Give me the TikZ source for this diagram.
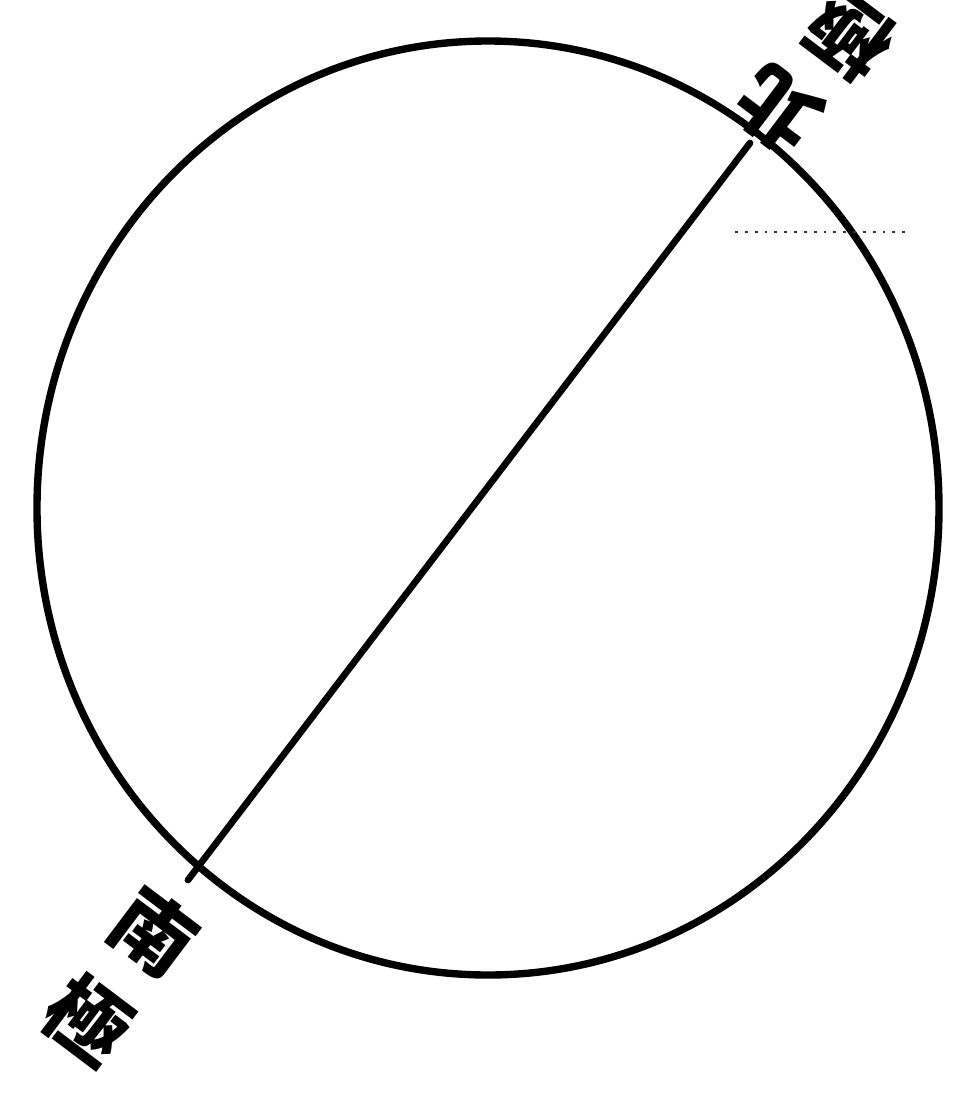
\documentclass[tikz,border=0pt]{standalone}
\usepackage{fontspec}
\newfontfamily\cjk{Noto Sans CJK TC}
\begin{document}
\begin{tikzpicture}[x=0.1mm,y=-0.1mm,
  rim/.style={line width=2.1pt, line cap=round},
  axisline/.style={line width=1.9pt, line cap=round},
  glyph/.style={font=\cjk\bfseries\fontsize{23pt}{23pt}\selectfont, inner sep=0pt}]
\useasboundingbox (0,0) rectangle (962,1110);
\fill[white] (0,0) rectangle (962,1110);
% circle
\draw[rim] (488,508) ellipse [x radius=451, y radius=467];
% pole points
\coordinate (N) at (750,143);
\coordinate (S) at (188,880);
\draw[axisline] (S) -- (N);
% faint dotted line
\coordinate (d1) at (735,232);
\coordinate (d2) at (908,232);
\draw[line width=0.8pt, dotted, black!80] (d1) -- (d2);
% labels
\node[glyph, rotate=143] (bei) at (778,110) {北};
\node[glyph, rotate=143] (ji1) at (850,36) {極};
\node[glyph, rotate=-37] (nan) at (154,933) {南};
\node[glyph, rotate=-37] (ji2) at (88,1020) {極};
\end{tikzpicture}
\end{document}
